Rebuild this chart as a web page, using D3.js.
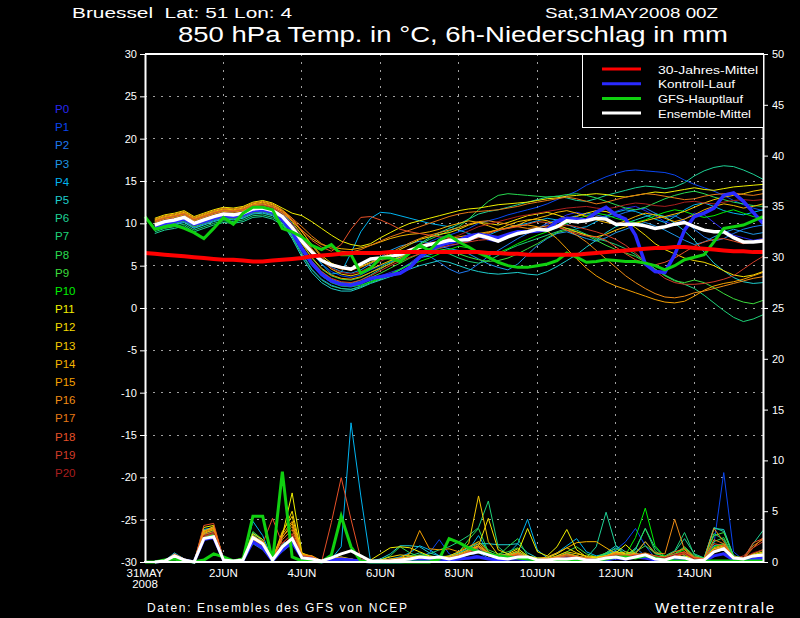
<!DOCTYPE html>
<html><head><meta charset="utf-8">
<script src="https://cdn.jsdelivr.net/npm/d3@7"></script>
<style>html,body{margin:0;padding:0;background:#000;} svg{display:block;}</style>
</head><body>
<svg id="c" width="800" height="618"></svg>
<script>
// ---------- DATA (6-hourly steps from 31MAY2008 00Z, 64 steps) ----------
const startTime = "2008-05-31T00:00:00Z";
const stepHours = 6;
const tempTicks = [-30,-25,-20,-15,-10,-5,0,5,10,15,20,25,30];
const precipTicks = [0,5,10,15,20,25,30,35,40,45,50];
const dayTickDates = ["2008-05-31","2008-06-02","2008-06-04","2008-06-06","2008-06-08","2008-06-10","2008-06-12","2008-06-14"];
const dayTickLabels = ["31MAY","2JUN","4JUN","6JUN","8JUN","10JUN","12JUN","14JUN"];
const memberNames = ["P0","P1","P2","P3","P4","P5","P6","P7","P8","P9","P10","P11","P12","P13","P14","P15","P16","P17","P18","P19","P20"];
const memberColors = ["#2828f0","#0a46f0","#1e78f0","#1e96e6","#00b4f0","#1ecdcd","#1ed296","#1ed278","#28dc50","#3cdc3c","#00f000","#f0f000","#f5dc00","#f5c800","#f5b400","#f5a000","#f08c14","#e67814","#e65028","#d23c28","#aa1e1e"];
const legendNames = ["30-Jahres-Mittel","Kontroll-Lauf","GFS-Hauptlauf","Ensemble-Mittel"];

// 850 hPa temperature (°C)
const tClim = [6.5,6.4,6.3,6.2,6.1,6.0,5.9,5.8,5.7,5.7,5.6,5.5,5.5,5.6,5.7,5.8,5.9,6.1,6.2,6.3,6.4,6.5,6.5,6.5,6.5,6.6,6.6,6.6,6.6,6.6,6.6,6.6,6.6,6.6,6.6,6.5,6.5,6.4,6.4,6.3,6.3,6.3,6.3,6.3,6.3,6.4,6.5,6.6,6.7,6.8,6.9,7.0,7.1,7.1,7.2,7.2,7.1,7.0,6.9,6.8,6.7,6.7,6.6,6.6];
const tMean = [null,9.8,10.2,10.4,10.7,10.0,10.4,10.8,11.1,11.0,11.2,11.7,11.8,11.5,10.8,9.5,7.9,6.6,5.6,5.1,4.8,4.6,5.2,5.8,5.9,6.1,6.3,6.8,7.2,7.5,7.7,8.0,8.0,8.1,8.6,8.3,7.9,8.4,8.8,9.0,9.3,9.2,9.6,10.3,10.2,10.3,10.6,10.5,9.9,9.9,9.9,9.7,9.4,9.6,9.9,10.1,9.6,9.2,9.0,9.0,8.3,7.8,7.8,7.9];
const tControl = [null,9.6,10.0,10.2,10.5,9.9,10.2,10.6,10.9,10.8,11.0,11.5,11.6,11.3,10.5,9.0,7.0,5.3,4.0,3.2,2.8,2.7,3.0,3.5,3.7,3.9,4.1,4.8,6.0,6.8,7.4,7.7,8.0,8.5,8.7,8.5,8.3,8.7,9.0,9.0,9.1,9.3,10.2,10.6,10.5,10.4,11.3,11.9,11.0,10.5,8.6,5.2,4.3,4.2,6.3,9.2,10.8,11.2,11.8,13.3,13.6,12.6,11.3,10.0];
const tGFS = [10.8,9.3,9.6,9.8,9.4,8.9,8.2,9.4,10.7,9.9,11.2,11.9,11.9,11.6,9.4,9.0,8.4,7.4,6.9,7.5,6.3,6.3,4.1,4.7,5.9,5.9,5.5,6.5,7.4,6.8,8.0,8.6,7.8,7.2,6.5,6.0,5.4,5.0,4.8,4.8,5.0,5.2,5.6,6.5,6.0,5.4,5.5,5.7,5.6,5.5,5.5,5.3,5.0,4.5,5.0,5.7,6.0,6.3,7.8,9.4,9.6,9.8,10.3,10.8];

const tP0 = [null,9.5,9.9,10.1,10.4,9.7,10.1,10.5,10.8,10.7,10.9,11.4,11.5,11.2,10.4,8.8,6.8,5.0,3.8,3.0,2.6,2.5,2.8,3.4,3.8,4.2,4.6,5.3,6.2,6.8,7.1,7.3,7.6,7.9,8.4,8.0,7.8,8.3,8.8,9.1,9.4,9.8,10.4,11.0,11.3,11.0,10.6,10.9,11.4,11.8,12.0,11.5,10.9,10.2,9.8,10.5,11.2,11.0,10.1,9.2,8.6,8.3,8.0,8.2];
const tP1 = [null,10.0,10.4,10.6,10.9,10.2,10.6,11.0,11.3,11.2,11.4,11.9,12.0,11.7,11.0,9.6,8.0,6.5,5.2,4.3,3.8,3.6,3.9,4.5,5.0,5.4,5.9,6.5,7.2,7.8,8.3,8.6,9.0,9.4,10.0,10.3,10.6,11.0,11.3,11.6,11.9,12.3,12.8,13.3,13.8,14.5,15.0,15.5,15.9,16.2,16.3,16.2,16.1,16.0,15.7,15.1,14.6,14.2,13.8,13.3,12.7,12.2,11.8,11.5];
const tP2 = [null,9.3,9.7,9.9,10.2,9.5,9.9,10.3,10.6,10.5,10.7,11.2,11.3,11.0,10.2,8.5,6.5,4.6,3.4,2.7,2.3,2.2,2.6,3.2,3.6,4.0,4.5,5.2,6.0,6.1,5.4,4.6,4.1,4.4,5.2,6.1,6.8,7.5,8.2,8.8,9.4,10.0,10.4,10.6,10.9,11.2,11.0,10.7,10.9,11.3,11.6,11.8,11.2,10.7,10.9,10.3,9.3,8.4,7.9,8.2,8.8,9.3,9.6,9.8];
const tP3 = [null,10.2,10.6,10.8,11.1,10.4,10.8,11.2,11.5,11.4,11.6,12.1,12.2,11.9,11.2,10.0,8.4,6.9,5.7,4.8,4.3,4.1,4.5,5.2,6.0,6.8,7.3,7.6,7.9,7.7,7.3,7.0,6.8,6.4,5.8,5.2,4.8,4.5,5.2,6.3,7.4,8.2,8.8,9.0,8.6,8.2,7.9,8.3,8.9,9.3,9.8,10.1,9.7,9.2,8.6,8.0,7.5,7.8,8.4,8.9,9.3,9.0,8.7,8.9];
const tP4 = [null,9.9,10.3,10.5,10.8,10.1,10.5,10.9,11.2,11.1,11.3,11.8,11.9,11.6,10.9,9.7,8.2,6.6,5.2,4.0,4.2,6.5,9.0,10.6,11.3,11.2,10.9,10.6,10.3,10.0,9.8,9.6,9.2,8.8,8.4,8.6,9.1,9.5,9.8,10.0,10.3,10.6,10.4,9.9,9.4,9.6,10.2,10.8,11.3,11.6,11.4,11.0,10.5,10.1,10.8,11.6,12.2,12.4,12.0,11.5,11.2,11.0,11.3,11.6];
const tP5 = [null,9.2,9.6,9.8,10.1,9.4,9.8,10.2,10.5,10.4,10.6,11.1,11.2,10.9,10.0,8.2,6.0,4.2,3.0,2.3,2.0,2.0,2.4,2.9,3.3,3.7,4.1,4.6,5.0,5.3,5.6,5.4,5.0,4.6,4.3,4.1,4.0,4.1,4.2,4.0,3.9,4.3,4.9,5.6,6.3,7.2,8.0,8.9,9.6,10.0,10.4,10.8,11.1,10.8,10.0,9.1,8.0,6.6,5.3,4.4,3.6,3.1,2.9,3.0];
const tP6 = [null,8.8,9.2,9.4,9.7,9.0,9.4,9.8,10.1,10.0,10.2,10.7,10.8,10.5,9.8,8.6,7.0,5.5,4.3,3.4,3.0,2.9,3.3,3.9,4.6,5.3,6.0,6.8,7.6,8.3,8.9,9.4,9.9,10.5,11.1,11.4,11.6,11.9,12.2,12.5,12.8,13.1,13.2,13.0,12.7,12.6,12.9,13.3,13.6,13.9,14.2,14.4,14.3,14.1,14.3,14.8,15.6,16.2,16.6,16.8,16.7,16.3,15.8,15.2];
const tP7 = [null,9.0,9.4,9.6,9.9,9.2,9.6,10.0,10.3,10.2,10.4,10.9,11.0,10.7,10.0,8.4,6.3,4.5,3.3,2.6,2.3,2.2,2.5,3.0,3.4,3.9,4.5,5.2,5.9,6.3,6.6,6.4,5.9,5.5,5.3,5.6,6.2,6.9,7.4,7.8,8.2,8.6,9.0,9.4,9.2,8.7,8.2,7.9,7.5,7.0,6.3,5.5,4.6,3.9,3.3,2.8,2.3,1.5,0.6,-0.3,-1.1,-1.6,-1.3,-0.8];
const tP8 = [null,9.8,10.2,10.4,10.7,10.0,10.4,10.8,11.1,11.0,11.2,11.7,11.8,11.5,10.8,9.4,7.6,5.9,4.6,3.8,3.4,3.3,3.6,4.2,4.8,5.5,6.2,6.9,7.5,8.1,8.6,9.1,9.6,10.5,11.6,12.6,13.3,13.5,13.4,13.3,13.2,13.1,13.2,13.4,13.5,13.3,13.0,12.6,12.2,11.8,11.6,11.9,12.4,12.9,13.3,13.6,13.8,13.5,13.1,12.8,12.5,12.3,12.1,12.0];
const tP9 = [null,9.4,9.8,10.0,10.3,9.6,10.0,10.4,10.7,10.6,10.8,11.3,11.4,11.1,10.4,9.0,7.1,5.3,4.0,3.2,2.9,2.8,3.1,3.6,4.1,4.7,5.3,5.9,6.4,6.8,7.0,6.8,6.4,6.0,5.7,5.5,5.6,5.9,6.4,7.0,7.6,8.3,8.9,9.2,9.0,8.6,8.0,7.4,6.9,6.5,6.1,5.4,4.6,3.8,3.2,3.0,3.3,3.0,2.4,1.7,1.1,0.7,0.5,0.9];
const tP10 = [null,10.1,10.5,10.7,11.0,10.3,10.7,11.1,11.4,11.3,11.5,12.0,12.1,11.8,11.0,9.3,7.2,5.2,3.8,3.0,2.6,2.5,2.7,3.1,3.5,4.0,4.6,5.1,5.5,5.9,6.4,6.9,7.3,7.1,6.6,6.3,6.5,7.0,7.6,8.1,8.6,9.0,9.5,10.0,10.5,10.9,11.2,11.0,10.6,10.3,10.1,10.4,10.9,11.3,11.6,11.4,11.0,10.7,10.9,11.3,11.6,11.2,10.8,10.6];
const tP11 = [null,10.6,11.0,11.2,11.5,10.8,11.2,11.6,11.9,11.8,12.0,12.5,12.7,12.4,11.8,11.2,10.9,10.2,9.4,8.6,7.9,7.5,7.3,7.6,8.3,8.9,9.5,10.0,10.3,10.6,10.9,11.2,11.5,11.7,11.8,12.0,12.2,12.3,12.4,12.5,12.7,12.9,13.0,13.2,13.3,13.4,13.5,13.4,13.2,13.1,13.3,13.5,13.7,13.6,13.8,14.0,14.2,14.0,13.9,14.1,14.3,14.4,14.5,14.6];
const tP12 = [null,10.4,10.8,11.0,11.3,10.6,11.0,11.4,11.7,11.6,11.8,12.3,12.5,12.2,11.5,10.4,9.0,7.5,6.2,5.3,4.8,4.6,4.9,5.4,5.8,6.3,6.9,7.5,8.1,8.4,8.7,8.9,9.3,9.8,10.1,10.0,9.8,10.1,10.5,10.9,11.1,11.3,11.0,10.6,10.8,11.2,11.5,11.4,11.0,10.3,9.5,8.6,7.6,6.9,6.4,5.9,5.6,5.4,5.0,4.4,3.9,3.7,3.9,4.3];
const tP13 = [null,10.3,10.7,10.9,11.2,10.5,10.9,11.3,11.6,11.5,11.7,12.2,12.3,12.0,11.4,10.2,8.6,7.0,5.6,4.6,4.0,3.8,4.1,4.6,5.1,5.6,6.0,6.5,7.1,7.5,7.8,7.9,8.0,8.3,8.7,8.9,9.3,9.8,10.2,10.4,10.5,10.3,9.8,9.4,9.0,8.6,8.4,8.7,9.2,9.6,10.0,10.3,10.6,10.8,11.1,11.4,11.9,12.4,12.8,13.1,13.3,13.5,13.8,14.0];
const tP14 = [null,10.1,10.5,10.7,11.0,10.3,10.7,11.1,11.4,11.3,11.5,12.0,12.1,11.8,11.2,10.3,9.2,8.2,7.5,7.2,7.0,6.9,7.1,7.4,7.8,8.2,8.5,8.7,8.8,9.0,9.3,9.7,10.0,10.3,10.1,9.7,9.3,9.4,9.8,10.3,10.6,10.9,11.3,11.5,11.2,10.8,10.4,10.1,9.9,10.3,10.8,11.2,11.0,10.6,10.2,10.5,11.0,11.6,12.0,12.3,12.1,11.8,12.0,12.3];
const tP15 = [null,9.9,10.3,10.5,10.8,10.1,10.5,10.9,11.2,11.1,11.3,11.8,11.9,11.6,10.9,9.5,7.6,6.0,4.7,3.9,3.5,3.4,3.7,4.2,4.7,5.2,5.8,6.4,7.0,7.5,7.9,8.2,8.4,8.6,8.8,9.0,9.2,9.5,9.7,9.8,9.6,9.1,8.2,7.0,5.8,4.7,3.8,3.1,2.6,2.2,1.8,1.4,1.0,0.7,0.6,0.8,1.4,2.1,2.6,2.9,3.1,3.4,3.8,4.2];
const tP16 = [null,10.5,10.9,11.1,11.4,10.7,11.1,11.5,11.8,11.7,11.9,12.4,12.6,12.3,11.6,10.6,9.1,7.4,6.0,5.0,4.6,4.5,4.8,5.3,5.9,6.5,7.1,7.7,8.2,8.6,8.9,9.2,9.5,9.9,10.2,10.3,10.1,9.9,9.6,9.4,9.5,9.7,9.6,9.2,8.6,7.8,6.8,5.8,4.8,3.8,3.0,2.3,1.7,1.3,1.2,1.4,1.8,2.0,2.3,2.6,2.9,3.2,3.5,3.7];
const tP17 = [null,10.3,10.7,10.9,11.2,10.5,10.9,11.3,11.6,11.5,11.7,12.2,12.4,12.1,11.5,10.6,9.6,8.5,7.6,7.0,6.7,6.6,6.9,7.4,7.9,8.4,8.8,9.2,9.6,10.0,10.4,10.8,11.1,11.3,11.4,11.5,11.6,11.8,12.0,12.3,12.5,12.7,12.9,13.1,12.9,12.6,12.3,12.5,12.8,13.1,13.3,13.5,13.4,13.2,13.0,12.8,12.9,13.2,13.4,13.5,13.6,13.4,13.3,13.5];
const tP18 = [null,10.2,10.6,10.8,11.1,10.4,10.8,11.2,11.5,11.4,11.6,12.1,12.2,11.9,11.3,10.4,9.2,8.0,7.2,6.7,7.5,9.3,10.7,10.8,10.4,9.9,9.3,9.0,8.8,8.6,8.4,8.3,8.1,8.0,8.3,8.8,9.2,9.4,9.6,9.9,10.2,10.1,9.6,9.2,8.8,8.5,8.4,8.0,7.2,6.4,5.7,5.3,5.1,5.4,5.9,6.6,7.3,7.8,8.1,8.2,7.9,7.6,7.8,8.1];
const tP19 = [null,9.8,10.2,10.4,10.7,10.0,10.4,10.8,11.1,11.0,11.2,11.7,11.8,11.5,10.8,9.2,7.3,5.6,4.3,3.5,3.1,3.0,3.3,3.8,4.4,5.0,5.5,6.0,6.4,6.8,7.1,7.4,7.6,7.8,8.0,8.1,8.3,8.6,8.9,9.1,9.3,9.5,9.7,9.8,9.6,9.3,9.0,8.6,8.1,7.4,6.5,5.5,4.4,3.5,3.0,2.8,2.8,2.9,3.1,3.4,3.8,4.6,5.4,6.1];
const tP20 = [null,10.0,10.4,10.6,10.9,10.2,10.6,11.0,11.3,11.2,11.4,11.9,12.1,11.8,11.1,9.9,8.3,6.9,5.6,4.7,4.2,4.0,4.3,4.9,5.5,6.0,6.5,7.0,7.4,7.7,7.9,8.2,8.6,9.1,9.6,9.9,10.2,10.5,10.8,11.0,11.2,11.4,11.6,11.8,11.9,12.0,11.8,11.7,11.9,12.2,12.4,12.3,12.1,12.0,12.2,12.5,12.6,12.4,12.3,12.5,12.7,12.8,12.7,12.8];

// 6h precipitation (mm)
const pMean = [null,0,0.1,0.6,0.2,0,2.3,2.5,0.2,0.1,0.2,2.4,1.8,0.2,1.5,2.3,0.4,0.3,0.1,0.4,0.8,1.1,0.6,0.1,0.1,0.1,0.2,0.3,0.5,0.4,0.5,0.3,0.5,0.8,1.0,0.7,0.4,0.3,0.5,0.5,0.2,0.2,0.3,0.3,0.4,0.2,0.2,0.4,0.5,0.3,0.5,0.7,0.3,0.2,0.5,0.4,0.1,0.2,1.0,1.3,0.4,0.3,0.6,0.7];
const pControl = [null,0,0.1,0.5,0.2,0,2.2,2.4,0.2,0.1,0.2,2.0,1.4,0.1,1.2,1.9,0.4,0.3,0,0.2,0.3,0.2,0.1,0,0,0,0,0.1,0.2,0.2,0.3,0.2,0.3,0.4,0.5,0.3,0.2,0.3,0.3,0.2,0.1,0.1,0.2,0.3,0.2,0.1,0.1,0.2,0.4,0.3,0.5,0.4,0.2,0.1,0.2,0.3,0.1,0.1,0.6,0.8,0.2,0.1,0.3,0.4];
const pGFS = [0,0,0.2,0.3,0.1,0,0.2,0.8,0.5,0.1,0.3,4.5,4.5,0.1,8.9,0.5,0.1,0.1,0,0.7,4.5,1.5,0.1,0,0,0,0,0,0,0,0.3,2.3,1.9,1.4,1.0,0.8,0.6,0.5,0.4,0.3,0.2,0.1,0.1,0.1,0.1,0.1,0.2,0.3,0.5,0.5,0.4,0.6,0.4,0.2,0.1,0.1,0.1,0.1,0.1,0.1,0.1,0.1,0.1,0.1];

const pP0 = [null,0,0.1,0.5,0.2,0,2.2,2.6,0.2,0.1,0.2,2.0,1.4,0.1,1.2,2.0,0.4,0.3,0,0.2,0.3,0.2,0.1,0,0,0.1,0.2,0.3,0.4,0.2,0.3,0.2,0.5,0.8,0.6,0.3,0.2,0.4,0.5,0.2,0.1,0.1,0.2,0.3,0.2,0.1,0.1,0.3,0.4,0.3,0.6,0.5,0.2,0.1,0.3,0.2,0.1,0.1,0.6,0.9,0.2,0.1,0.3,0.4];
const pP1 = [null,0,0.1,0.7,0.3,0,2.6,3.0,0.3,0.1,0.3,2.6,1.9,0.2,1.6,2.4,0.5,0.4,0.1,0.2,0.4,0.3,0.1,0,0,0.1,0.1,0.2,0.5,0.9,2.2,0.8,0.4,0.3,0.5,0.4,0.2,0.2,0.3,0.4,0.2,0.1,0.2,0.4,0.3,0.2,0.2,0.5,1.2,2.0,3.3,1.6,0.4,0.2,0.3,0.4,0.2,0.3,1.8,8.8,1.0,0.2,0.4,0.6];
const pP2 = [null,0,0.1,0.4,0.2,0,2.4,2.5,0.2,0.1,0.2,1.8,1.2,0.1,1.0,1.8,0.3,0.2,0,0.1,0.2,0.1,0,0,0,0,0.1,0.2,0.3,0.3,0.2,0.2,0.4,0.7,0.9,0.4,0.2,0.3,0.4,0.3,0.2,0.2,0.3,0.4,0.2,0.1,0.2,0.6,0.9,0.5,1.4,0.6,0.2,0.1,0.2,0.3,0.1,0.2,1.0,1.2,0.3,0.1,0.2,0.3];
const pP3 = [null,0,0.1,0.6,0.2,0,2.8,2.9,0.3,0.1,0.3,2.9,2.0,0.2,1.8,2.2,0.6,0.4,0,0.3,0.4,0.2,0.1,0,0.1,0.1,0.2,0.2,0.3,0.4,0.4,0.3,0.5,1.0,1.4,0.6,0.4,0.6,0.9,0.3,0.2,0.2,0.3,0.5,0.4,0.2,0.3,0.8,1.1,0.6,0.9,0.5,0.2,0.1,0.3,0.5,0.2,0.2,1.3,1.5,0.4,0.3,0.4,0.6];
const pP4 = [null,0,0.1,0.9,0.3,0,3.2,3.4,0.3,0.1,0.4,4.0,2.6,0.2,1.8,2.2,0.4,0.3,0,0.3,1.5,13.7,6.5,0,0.1,0.3,0.5,0.9,1.6,1.2,0.6,0.3,0.5,1.2,2.6,1.0,0.6,0.8,1.8,4.2,1.2,0.4,0.9,1.6,2.3,1.0,0.6,0.8,1.4,0.7,0.5,0.4,0.3,0.2,0.4,0.6,0.3,0.3,1.6,1.8,0.5,0.3,0.6,0.8];
const pP5 = [null,0,0.1,0.5,0.2,0,2.3,2.6,0.2,0.1,0.3,2.2,1.6,0.1,1.4,2.0,0.5,0.3,0,0.2,0.3,0.2,0.1,0.1,0.3,0.8,1.6,1.6,1.5,0.9,0.6,0.5,0.9,1.4,1.8,1.8,1.7,1.7,1.8,0.9,0.4,0.3,0.4,0.6,0.5,0.3,0.4,0.9,1.6,1.0,0.6,0.4,0.3,0.2,0.4,0.5,0.2,0.4,3.3,3.2,0.6,0.2,0.5,0.7];
const pP6 = [null,0,0.1,0.6,0.2,0,2.5,2.7,0.2,0.1,0.3,2.4,1.7,0.2,1.6,2.4,0.4,0.3,0,0.2,0.3,0.2,0.1,0,0,0.1,0.3,0.6,0.9,0.5,0.4,0.3,0.8,1.5,1.2,0.6,0.4,0.5,0.7,0.4,0.3,0.3,0.5,0.8,0.6,0.4,1.5,4.9,1.6,0.7,1.2,3.3,1.4,0.5,1.0,2.3,0.8,0.4,3.4,3.0,0.6,0.4,1.8,3.1];
const pP7 = [null,0,0.1,0.7,0.2,0,2.7,2.9,0.3,0.1,0.3,2.7,1.9,0.2,1.5,2.3,0.5,0.4,0.1,0.2,0.3,0.2,0.1,0,0,0.1,0.2,0.4,0.6,0.8,1.2,1.5,2.0,2.6,3.4,6.0,1.5,0.7,1.0,0.5,0.3,0.2,0.4,0.6,0.4,0.3,0.4,0.8,1.0,0.6,0.9,2.0,0.8,0.6,1.1,2.9,0.7,0.3,2.8,2.2,0.4,0.3,0.6,0.9];
const pP8 = [null,0,0.1,0.5,0.2,0,2.6,2.8,0.2,0.1,0.3,2.6,1.8,0.2,1.4,2.2,0.4,0.3,0,0.2,0.3,0.2,0.1,0,0.2,0.6,1.5,0.9,0.5,0.3,0.5,0.6,1.0,2.2,3.3,1.0,0.6,1.5,2.3,0.6,0.3,0.2,0.4,0.9,0.6,0.3,0.4,0.7,1.0,0.7,1.3,3.3,1.1,0.4,0.7,1.4,0.5,0.3,2.0,2.4,0.5,0.3,0.7,1.0];
const pP9 = [null,0,0.1,0.8,0.3,0,2.9,3.1,0.3,0.1,0.4,3.0,2.2,0.2,1.7,2.1,0.4,0.3,0,0.2,0.3,0.2,0.1,0,0,0.1,0.3,0.5,0.7,0.6,0.5,0.4,0.7,1.3,2.0,1.2,0.8,1.0,1.4,0.5,0.3,0.3,0.6,1.0,1.5,0.8,0.5,0.9,1.3,0.8,1.0,1.6,0.9,0.5,0.8,1.5,0.6,0.4,2.6,2.9,0.6,0.4,0.8,1.2];
const pP10 = [null,0,0.1,0.6,0.2,0,2.4,2.7,0.2,0.1,0.3,2.3,1.5,0.1,1.3,2.0,0.4,0.3,0,0.2,0.3,0.2,0.1,0,0,0.1,0.2,0.3,0.5,0.4,0.3,0.3,0.6,1.1,1.5,0.7,0.4,0.5,0.8,0.4,0.2,0.2,0.3,0.5,0.4,0.2,0.3,0.6,0.9,0.7,2.4,5.3,1.6,0.5,0.8,1.2,0.4,0.2,1.5,1.8,0.4,0.2,0.5,0.7];
const pP11 = [null,0,0.1,0.7,0.3,0,3.4,3.6,0.3,0.1,0.4,2.8,2.2,0.3,2.6,6.8,0.9,0.5,0.1,0.3,0.5,0.3,0.1,0.2,0.8,1.4,1.5,1.4,1.0,0.6,0.4,0.3,0.5,0.9,1.6,0.8,0.5,0.6,0.9,3.3,1.0,0.6,1.5,3.2,1.2,0.5,0.4,0.6,0.9,1.7,0.8,0.5,0.3,0.2,0.4,0.6,0.3,0.2,1.0,1.2,0.3,0.2,0.4,0.6];
const pP12 = [null,0,0.1,0.6,0.2,0,3.1,3.3,0.3,0.1,0.3,2.5,2.0,0.3,2.8,5.0,0.8,0.5,0.1,0.3,0.4,0.2,0.1,0,0.2,0.5,0.7,0.6,0.5,0.4,0.3,0.3,0.6,1.0,1.6,4.3,1.2,0.8,1.3,0.6,0.4,0.4,0.8,1.4,0.9,0.5,0.4,0.6,1.0,0.8,0.7,0.6,0.4,0.3,0.5,0.8,0.3,0.2,1.1,1.4,0.3,0.2,0.5,0.7];
const pP13 = [null,0,0.1,0.5,0.2,0,3.0,3.5,0.3,0.1,0.3,2.3,1.8,0.3,3.0,4.5,0.7,0.6,0.1,0.3,0.4,0.2,0.1,0,0.1,0.3,0.4,0.5,0.6,0.5,0.4,0.6,1.0,1.8,6.5,2.0,0.7,0.7,1.1,0.5,0.3,0.3,0.6,1.0,0.8,0.6,0.5,0.6,0.8,1.0,0.8,0.7,0.5,0.3,0.6,1.0,0.4,0.3,1.3,1.6,0.4,0.3,0.7,1.0];
const pP14 = [null,0,0.1,0.6,0.2,0,2.8,3.2,0.3,0.1,0.3,2.2,1.7,0.2,2.4,3.8,0.6,0.5,0.1,0.3,0.4,0.2,0.1,0,0.1,0.2,0.3,0.4,0.5,0.4,0.4,0.5,0.8,1.2,1.6,0.9,0.5,0.6,0.9,0.4,0.3,0.5,0.9,1.4,1.9,2.0,2.0,1.4,0.8,0.6,0.5,0.7,0.4,0.3,0.6,0.8,0.3,0.3,1.2,1.5,0.4,0.3,0.6,0.9];
const pP15 = [null,0,0.1,0.6,0.2,0,2.9,3.3,0.3,0.1,0.3,2.4,1.9,0.3,2.7,4.0,0.8,0.6,0.1,0.3,0.4,0.2,0.1,0,0.1,0.2,0.4,0.8,3.1,1.3,1.2,1.3,1.0,1.5,2.0,1.0,0.5,0.6,0.8,0.4,0.3,0.3,0.5,0.8,0.6,0.4,0.3,0.5,0.8,0.6,0.5,0.6,0.4,0.3,0.6,0.9,0.4,0.3,1.4,1.7,0.5,0.4,0.8,1.2];
const pP16 = [null,0,0.1,0.7,0.3,0,3.0,3.4,0.3,0.1,0.4,2.6,2.0,0.3,2.5,3.5,0.7,0.6,0.1,0.3,0.4,0.3,0.1,0,0.1,0.2,0.3,0.4,0.5,0.5,0.4,0.4,0.7,1.1,1.8,0.9,0.5,0.6,0.9,0.4,0.3,0.3,0.5,0.8,0.6,0.4,0.3,0.6,0.9,0.7,0.8,2.0,0.9,0.8,4.2,1.2,0.4,0.3,3.3,2.0,0.4,0.3,1.4,2.4];
const pP17 = [null,0,0.1,0.6,0.2,0,2.7,3.0,0.3,0.1,0.3,2.3,1.7,0.3,2.2,3.2,0.6,0.5,0.1,0.3,0.4,0.3,0.1,0,0.1,0.2,0.3,0.4,0.4,0.4,0.3,0.4,0.6,1.0,1.5,0.8,0.5,0.5,0.8,0.4,0.3,0.3,0.5,0.7,0.5,0.4,0.3,0.5,0.8,0.6,0.7,0.9,0.6,0.5,1.0,1.3,0.5,0.3,2.2,1.8,0.5,0.4,1.6,2.2];
const pP18 = [null,0,0.1,0.8,0.3,0,3.6,3.8,0.3,0.1,0.3,2.4,1.8,4.3,1.8,2.8,0.6,0.5,0,3.9,8.3,4.2,0.3,0,0.1,0.2,0.3,0.4,0.4,0.3,0.3,0.4,0.6,1.0,1.4,0.7,0.4,0.5,0.7,0.4,0.3,0.3,0.4,0.6,0.5,0.3,0.3,0.5,0.7,0.6,0.7,0.8,0.6,0.4,0.8,1.0,0.4,0.3,1.8,1.6,0.4,0.3,1.9,2.3];
const pP19 = [null,0,0.1,0.5,0.2,0,2.5,2.8,0.2,0.1,0.3,2.1,1.6,0.2,1.6,2.6,0.5,0.4,0,0.2,0.3,0.2,0.1,0,0,0.1,0.2,0.3,0.4,0.3,0.3,0.3,0.5,0.8,1.1,0.6,0.4,0.4,0.6,0.3,0.2,0.2,0.3,0.5,0.4,0.3,0.3,0.4,0.6,0.5,0.6,0.7,0.5,0.4,0.6,0.8,0.3,0.2,1.2,1.3,0.3,0.6,1.4,2.0];
const pP20 = [null,0,0.1,0.6,0.2,0,2.6,2.9,0.3,0.1,0.3,2.4,1.8,0.2,1.9,2.7,0.5,0.4,0,0.2,0.3,0.2,0.1,0,0,0.1,0.2,0.3,0.4,0.3,0.3,0.3,0.5,0.9,1.2,0.6,0.4,0.4,0.6,0.3,0.2,0.2,0.3,0.5,0.4,0.3,0.3,0.4,0.6,0.5,0.6,0.7,0.5,0.4,0.7,0.9,0.3,0.2,1.1,1.2,0.3,0.4,0.9,1.2];

const memberTemps = [tP0,tP1,tP2,tP3,tP4,tP5,tP6,tP7,tP8,tP9,tP10,tP11,tP12,tP13,tP14,tP15,tP16,tP17,tP18,tP19,tP20];
const memberPrecip = [pP0,pP1,pP2,pP3,pP4,pP5,pP6,pP7,pP8,pP9,pP10,pP11,pP12,pP13,pP14,pP15,pP16,pP17,pP18,pP19,pP20];

// ---------- CHART ----------
const svg = d3.select("#c");
const W = 800, H = 618;
const L = 145, R = 763, T = 54, B = 562;
svg.append("rect").attr("width", W).attr("height", H).attr("fill", "#000");

const t0 = new Date(startTime).getTime();
const stepMs = stepHours * 3600 * 1000;
const nSteps = tMean.length;
const timeAt = i => new Date(t0 + i * stepMs);

const x = d3.scaleUtc().domain([timeAt(0), timeAt(nSteps - 1)]).range([L, R]);
const yT = d3.scaleLinear().domain([-30, 30]).range([B, T]);
const yP = d3.scaleLinear().domain([0, 50]).range([B, T]);

const FONT = "'Liberation Sans', Arial, sans-serif";
const GRID = "#a0a0a0";

// grid
const g = svg.append("g");
dayTickDates.slice(1).forEach(d => {
  const xx = x(new Date(d + "T00:00:00Z"));
  g.append("line").attr("x1", xx).attr("x2", xx).attr("y1", T).attr("y2", B)
    .attr("stroke", GRID).attr("stroke-width", 1).attr("stroke-dasharray", "2,6").attr("shape-rendering", "crispEdges");
});
tempTicks.filter(v => v > -30 && v < 30).forEach(v => {
  g.append("line").attr("x1", L).attr("x2", R).attr("y1", yT(v)).attr("y2", yT(v))
    .attr("stroke", GRID).attr("stroke-width", 1).attr("stroke-dasharray", "2,6").attr("shape-rendering", "crispEdges");
});

const lineT = d3.line().defined(d => d != null).x((d, i) => x(timeAt(i))).y(d => yT(d));
const lineP = d3.line().defined(d => d != null).x((d, i) => x(timeAt(i))).y(d => yP(d));

const lines = svg.append("g").attr("fill", "none");
memberTemps.forEach((arr, k) => {
  lines.append("path").datum(arr).attr("d", lineT)
    .attr("stroke", memberColors[k]).attr("stroke-width", 1);
});
memberPrecip.forEach((arr, k) => {
  lines.append("path").datum(arr).attr("d", lineP)
    .attr("stroke", memberColors[k]).attr("stroke-width", 1);
});
lines.append("path").datum(tControl).attr("d", lineT).attr("stroke", "#2a2aff").attr("stroke-width", 3.5);
lines.append("path").datum(pControl).attr("d", lineP).attr("stroke", "#2a2aff").attr("stroke-width", 3);
lines.append("path").datum(tMean).attr("d", lineT).attr("stroke", "#ffffff").attr("stroke-width", 3.5);
lines.append("path").datum(tGFS).attr("d", lineT).attr("stroke", "#10d010").attr("stroke-width", 3);
lines.append("path").datum(tClim).attr("d", lineT).attr("stroke", "#ff0000").attr("stroke-width", 4);
lines.append("path").datum(pGFS).attr("d", lineP).attr("stroke", "#10d010").attr("stroke-width", 3);
lines.append("path").datum(pMean).attr("d", lineP).attr("stroke", "#ffffff").attr("stroke-width", 3);

// axes
const axL = svg.append("g").attr("transform", `translate(${L},0)`)
  .call(d3.axisLeft(yT).tickValues(tempTicks).tickSize(5).tickSizeOuter(0).tickPadding(3).tickFormat(d => String(d)));
const axR = svg.append("g").attr("transform", `translate(${R},0)`)
  .call(d3.axisRight(yP).tickValues(precipTicks).tickSize(5).tickSizeOuter(0).tickPadding(4).tickFormat(d => String(d)));
[axL, axR].forEach(a => {
  a.select(".domain").attr("stroke", "#fff").attr("stroke-width", 2);
  a.selectAll(".tick line").attr("stroke", "#fff").attr("stroke-width", 1);
  a.selectAll(".tick text").attr("fill", "#fff").attr("font-family", FONT).attr("font-size", 11);
});
svg.append("line").attr("x1", L).attr("x2", R + 1).attr("y1", T).attr("y2", T).attr("stroke", "#fff").attr("stroke-width", 2);
svg.append("line").attr("x1", L - 1).attr("x2", R + 1).attr("y1", B).attr("y2", B).attr("stroke", "#fff").attr("stroke-width", 2);

// x labels
dayTickDates.forEach((d, k) => {
  const xx = x(new Date(d + "T00:00:00Z"));
  svg.append("text").attr("x", xx).attr("y", 577).attr("text-anchor", "middle")
    .attr("fill", "#fff").attr("font-family", FONT).attr("font-size", 11.5).text(dayTickLabels[k]);
});
svg.append("text").attr("x", x(new Date(dayTickDates[0] + "T00:00:00Z"))).attr("y", 588).attr("text-anchor", "middle")
  .attr("fill", "#fff").attr("font-family", FONT).attr("font-size", 11.5).text("2008");

// legend box
const lg = svg.append("g");
lg.append("rect").attr("x", 582).attr("y", T).attr("width", R - 582).attr("height", 127 - T)
  .attr("fill", "#000").attr("stroke", "#fff").attr("stroke-width", 1).attr("shape-rendering", "crispEdges");
const legColors = ["#ff0000", "#2a2aff", "#10d010", "#ffffff"];
const legWidths = [100, 77, 85, 93];
legendNames.forEach((n, k) => {
  const yy = 69 + k * 14.7;
  lg.append("line").attr("x1", 602).attr("x2", 641).attr("y1", yy).attr("y2", yy)
    .attr("stroke", legColors[k]).attr("stroke-width", 3);
  lg.append("text").attr("x", 658).attr("y", yy + 4.5).attr("fill", "#fff")
    .attr("font-family", FONT).attr("font-size", 11.5)
    .attr("textLength", legWidths[k]).attr("lengthAdjust", "spacingAndGlyphs").text(n);
});

// member legend
memberNames.forEach((n, k) => {
  svg.append("text").attr("x", 55).attr("y", 113 + k * 18.2).attr("fill", memberColors[k])
    .attr("font-family", FONT).attr("font-size", 11.5).text(n);
});

// titles
svg.append("text").attr("x", 72).attr("y", 18).attr("fill", "#fff").attr("font-family", FONT).attr("font-size", 15.5)
  .attr("textLength", 220).attr("lengthAdjust", "spacingAndGlyphs").attr("xml:space", "preserve").text("Bruessel  Lat: 51 Lon: 4");
svg.append("text").attr("x", 545).attr("y", 18).attr("fill", "#fff").attr("font-family", FONT).attr("font-size", 15.5)
  .attr("textLength", 173).attr("lengthAdjust", "spacingAndGlyphs").text("Sat,31MAY2008 00Z");
svg.append("text").attr("x", 178).attr("y", 42).attr("fill", "#fff").attr("font-family", FONT).attr("font-size", 22.5)
  .attr("textLength", 550).attr("lengthAdjust", "spacingAndGlyphs").text("850 hPa Temp. in °C, 6h-Niederschlag in mm");
svg.append("text").attr("x", 147).attr("y", 612).attr("fill", "#fff").attr("font-family", FONT).attr("font-size", 12)
  .attr("textLength", 260).attr("lengthAdjust", "spacing").text("Daten: Ensembles des GFS von NCEP");
svg.append("text").attr("x", 655).attr("y", 613).attr("fill", "#fff").attr("font-family", FONT).attr("font-size", 15)
  .attr("textLength", 119).attr("lengthAdjust", "spacing").text("Wetterzentrale");
</script>
</body></html>
